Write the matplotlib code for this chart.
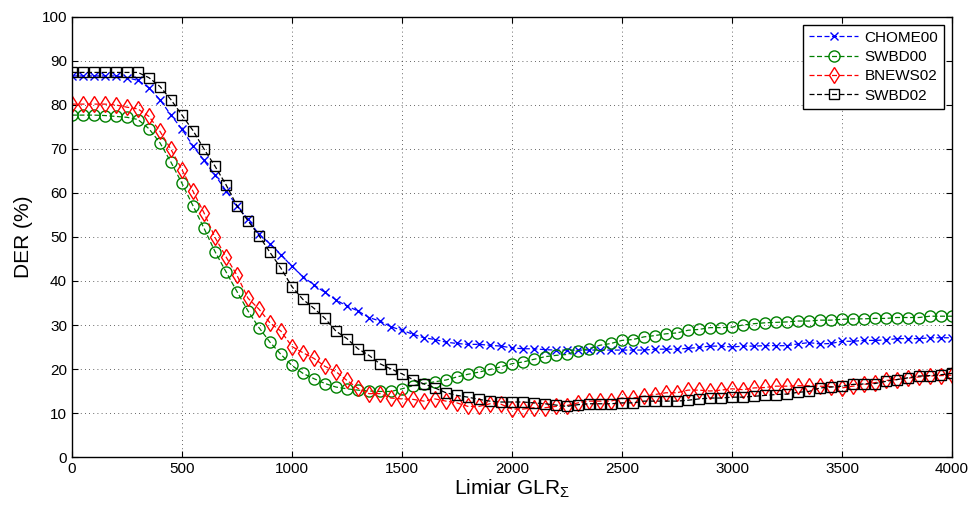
import numpy as np
import matplotlib
matplotlib.use("Agg")
import matplotlib.pyplot as plt
from matplotlib.ticker import MultipleLocator

plt.rcParams['font.family'] = ['Liberation Sans', 'DejaVu Sans']
plt.rcParams['mathtext.fontset'] = 'custom'
plt.rcParams['mathtext.rm'] = 'Liberation Sans'

# threshold values (step of 50)
limiar = np.arange(0, 4001, 50)

chome00 = [86.6, 86.6, 86.6, 86.6, 86.6, 86.2, 85.6, 83.9, 81.2, 77.7,
           74.5, 70.7, 67.4, 64.1, 60.5, 57.1, 54.0, 50.6, 48.5, 46.0,
           43.3, 41.0, 39.1, 37.4, 35.7, 34.3, 33.2, 31.7, 30.9, 29.6,
           28.8, 27.9, 27.1, 26.7, 26.1, 25.8, 25.6, 25.6, 25.4, 25.2,
           24.8, 24.6, 24.6, 24.4, 24.3, 24.3, 24.3, 24.3, 24.3, 24.3,
           24.3, 24.3, 24.3, 24.5, 24.5, 24.5, 24.7, 24.9, 25.2, 25.2,
           25.0, 25.2, 25.2, 25.3, 25.3, 25.3, 25.7, 26.0, 25.7, 25.8,
           26.3, 26.3, 26.5, 26.5, 26.6, 26.9, 26.9, 26.9, 27.1, 27.1,
           27.1]

swbd00 = [77.7, 77.7, 77.7, 77.6, 77.4, 77.2, 76.7, 74.6, 71.4, 67.0,
          62.2, 57.1, 52.0, 46.7, 42.1, 37.6, 33.2, 29.4, 26.1, 23.3,
          20.8, 19.0, 17.8, 16.7, 15.9, 15.5, 15.2, 15.0, 14.9, 14.9,
          15.5, 16.2, 16.7, 17.1, 17.5, 18.2, 18.8, 19.3, 19.9, 20.5,
          21.2, 21.6, 22.2, 22.8, 23.1, 23.3, 24.2, 24.6, 25.4, 25.8,
          26.5, 26.7, 27.3, 27.6, 28.0, 28.2, 28.8, 29.0, 29.4, 29.4,
          29.5, 30.0, 30.3, 30.5, 30.6, 30.7, 30.9, 30.9, 31.1, 31.1,
          31.3, 31.4, 31.4, 31.5, 31.5, 31.7, 31.7, 31.7, 32.0, 32.0,
          32.0]

bnews02 = [80.2, 80.2, 80.2, 80.2, 80.0, 79.5, 79.1, 77.4, 74.0, 69.9,
           65.3, 60.4, 55.5, 49.9, 45.5, 41.3, 36.1, 33.6, 30.5, 28.6,
           25.1, 23.7, 22.4, 20.6, 19.4, 17.4, 15.6, 14.4, 14.4, 13.4,
           13.2, 13.1, 12.7, 13.2, 12.7, 12.3, 11.5, 11.5, 12.1, 12.0,
           10.9, 10.9, 11.2, 11.2, 11.5, 11.7, 12.3, 12.7, 12.7, 12.7,
           13.4, 13.4, 13.8, 14.2, 14.6, 14.6, 15.2, 15.2, 15.0, 15.2,
           15.5, 15.3, 15.7, 15.8, 16.1, 16.1, 16.2, 16.2, 16.1, 16.0,
           15.7, 16.1, 16.5, 16.9, 17.4, 17.6, 17.9, 18.2, 18.4, 18.5,
           18.6]

swbd02 = [87.4, 87.4, 87.4, 87.4, 87.4, 87.4, 87.4, 86.2, 84.2, 81.2,
          77.7, 74.2, 70.0, 66.1, 61.9, 57.1, 53.7, 50.3, 46.5, 42.9,
          38.7, 35.8, 33.8, 31.5, 28.6, 26.9, 24.6, 23.1, 21.2, 20.0,
          18.9, 17.6, 16.6, 15.7, 14.6, 14.0, 13.6, 13.1, 12.7, 12.5,
          12.5, 12.5, 12.3, 12.1, 11.8, 11.5, 11.9, 12.1, 12.1, 12.1,
          12.3, 12.3, 12.7, 12.7, 12.7, 12.7, 12.9, 13.2, 13.4, 13.4,
          13.6, 13.6, 13.8, 14.0, 14.2, 14.3, 14.7, 14.9, 15.7, 15.9,
          16.1, 16.5, 16.6, 16.7, 17.2, 17.6, 18.0, 18.4, 18.5, 18.7,
          19.0]

labels = ['CHOME00', 'SWBD00', 'BNEWS02', 'SWBD02']
series = [chome00, swbd00, bnews02, swbd02]
colors = ['#0000ff', '#008000', '#ff0000', '#000000']
markers = ['x', 'o', 'd', 's']
msizes = [6, 8, 8, 6.5]

fig = plt.figure(figsize=(9.7, 5.07), dpi=100)
ax = fig.add_axes([0.0742, 0.0986, 0.9072, 0.8679])

for y, lab, c, m, ms in zip(series, labels, colors, markers, msizes):
    ax.plot(limiar, y, linestyle='--', dashes=(4, 2), color=c, lw=0.9,
            marker=m, markersize=ms, markerfacecolor='none',
            markeredgecolor=c, markeredgewidth=1.0, label=lab)

ax.set_xlim(0, 4000)
ax.set_ylim(0, 100)
ax.xaxis.set_major_locator(MultipleLocator(500))
ax.yaxis.set_major_locator(MultipleLocator(10))
ax.tick_params(direction='in', top=True, right=True, length=4,
               labelsize=11, width=0.8)
ax.grid(True, linestyle=(0, (1, 4)), color='black', lw=0.6, alpha=0.8)
for s in ax.spines.values():
    s.set_linewidth(1.0)

ax.set_xlabel(r'Limiar GLR$_{\Sigma}$', fontsize=15, labelpad=1)
ax.set_ylabel('DER (%)', fontsize=15, labelpad=6)

leg = ax.legend(loc='upper right', fontsize=11, handlelength=3.2,
                fancybox=False, framealpha=1, edgecolor='black',
                borderaxespad=0.5, labelspacing=0.35, handletextpad=0.4)
leg.get_frame().set_linewidth(1.0)

fig.savefig('out.png', dpi=100)
